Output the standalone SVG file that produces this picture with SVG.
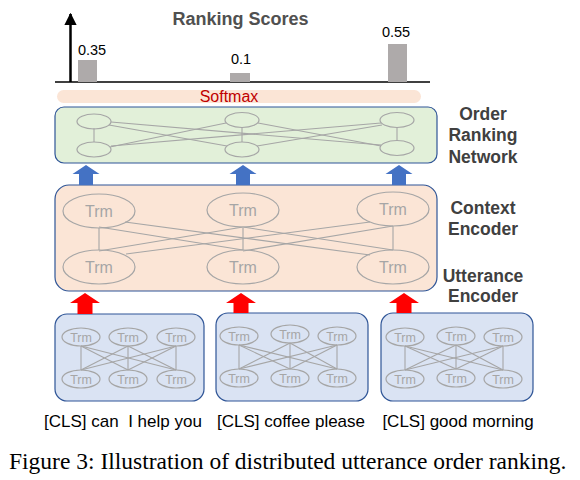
<svg xmlns="http://www.w3.org/2000/svg" width="580" height="480" viewBox="0 0 580 480">
<defs>
<style>
.lbl{font-family:"Liberation Sans",Arial,sans-serif;font-weight:bold;font-size:17.5px;fill:#404040;text-anchor:middle}
.trm{font-family:"Liberation Sans",Arial,sans-serif;fill:#a6a6a6;text-anchor:middle}
.big{font-size:16px}
.sm{font-size:12.5px}
.node{fill:none;stroke:#a6a6a6;stroke-width:1.2}
.edge{stroke:#a6a6a6;stroke-width:1.1;fill:none}
.box{stroke:#2f5597;stroke-width:1.2}
.blue{fill:#4472c4}
.red{fill:#ff0000}
.bar{fill:#aeaaaa}
.score{font-family:"Liberation Sans",Arial,sans-serif;font-size:14.5px;fill:#000;text-anchor:middle}
.utt{font-family:"Liberation Sans",Arial,sans-serif;font-size:17px;fill:#000;text-anchor:middle}
</style>
<marker id="ah" viewBox="0 0 10 10" refX="9" refY="5" markerWidth="5" markerHeight="5" orient="auto">
<path d="M0,0 L10,5 L0,10 Z" fill="#000"/>
</marker>
</defs>
<rect width="580" height="480" fill="#fff"/>

<!-- Ranking scores chart -->
<g id="scores">
<text x="240.5" y="25" class="lbl" style="font-size:18px;fill:#505050">Ranking Scores</text>
<line x1="55" y1="82" x2="430" y2="82" stroke="#000" stroke-width="1.5"/>
<line x1="70.5" y1="82" x2="70.5" y2="14" stroke="#000" stroke-width="2.5" marker-end="url(#ah)"/>
<rect x="78" y="60" width="19" height="22" class="bar"/>
<rect x="230" y="73" width="20" height="9" class="bar"/>
<rect x="388" y="44" width="19" height="38" class="bar"/>
<text x="92" y="55" class="score">0.35</text>
<text x="241" y="64" class="score">0.1</text>
<text x="396" y="37" class="score">0.55</text>
</g>

<g id="softmax">
<rect x="57" y="90" width="364" height="13" rx="6.5" fill="#fbe5d6"/>
<text x="229" y="101.5" font-family="Liberation Sans, Arial, sans-serif" font-size="16" fill="#c00000" text-anchor="middle">Softmax</text>
</g>

<!-- Order Ranking Network -->
<g id="order-ranking-network">
<rect x="55" y="107" width="382" height="56" rx="9" fill="#e2f0d9" class="box"/>
<g class="edge">
<line x1="94" y1="128" x2="94" y2="142"/>
<line x1="242" y1="127" x2="242" y2="142"/>
<line x1="397" y1="127" x2="397" y2="141"/>
<line x1="109" y1="125" x2="227" y2="146"/>
<line x1="111" y1="122" x2="381" y2="145"/>
<line x1="226" y1="123" x2="110" y2="147"/>
<line x1="258" y1="123" x2="381" y2="146"/>
<line x1="381" y1="123" x2="111" y2="146"/>
<line x1="382" y1="125" x2="257" y2="146"/>
</g>
<ellipse cx="94" cy="121.5" rx="17" ry="7.5" class="node"/>
<ellipse cx="242" cy="120" rx="17" ry="7.5" class="node"/>
<ellipse cx="397" cy="120" rx="17" ry="7.5" class="node"/>
<ellipse cx="94" cy="149.5" rx="17" ry="7.5" class="node"/>
<ellipse cx="242" cy="149.5" rx="17" ry="7.5" class="node"/>
<ellipse cx="397" cy="148" rx="17" ry="7.5" class="node"/>
<text class="lbl" x="483" y="120">Order</text>
<text class="lbl" x="483" y="141">Ranking</text>
<text class="lbl" x="483" y="163">Network</text>
</g>

<!-- Context Encoder -->
<g id="context-encoder">
<rect x="55" y="185" width="382" height="106" rx="14" fill="#fbe5d6" class="box"/>
<g class="edge">
<line x1="99" y1="228" x2="99" y2="250"/>
<line x1="243" y1="228" x2="243" y2="250"/>
<line x1="393" y1="226" x2="393" y2="250"/>
<line x1="99" y1="227" x2="243" y2="250"/>
<line x1="125" y1="222" x2="370" y2="255"/>
<line x1="243" y1="227" x2="99" y2="251"/>
<line x1="243" y1="227" x2="393" y2="250"/>
<line x1="370" y1="222" x2="126" y2="254"/>
<line x1="393" y1="226" x2="243" y2="251"/>
</g>
<ellipse cx="99" cy="211" rx="36" ry="17" class="node"/>
<ellipse cx="243" cy="210" rx="36" ry="17" class="node"/>
<ellipse cx="393" cy="209" rx="36" ry="17" class="node"/>
<ellipse cx="99" cy="267" rx="36" ry="17" class="node"/>
<ellipse cx="243" cy="267" rx="36" ry="17" class="node"/>
<ellipse cx="393" cy="267" rx="36" ry="17" class="node"/>
<text class="trm big" x="99" y="216.5">Trm</text>
<text class="trm big" x="243" y="215.5">Trm</text>
<text class="trm big" x="393" y="214.5">Trm</text>
<text class="trm big" x="99" y="272.5">Trm</text>
<text class="trm big" x="243" y="272.5">Trm</text>
<text class="trm big" x="393" y="272.5">Trm</text>
<text class="lbl" x="483" y="214">Context</text>
<text class="lbl" x="483" y="235">Encoder</text>
<text class="lbl" x="483" y="282">Utterance</text>
<text class="lbl" x="483" y="302">Encoder</text>
</g>

<!-- Utterance encoder 1 -->
<g id="utterance-1">
<rect x="55" y="314" width="149" height="87" rx="12" fill="#dae3f3" class="box"/>
<g class="edge">
<line x1="81" y1="346" x2="81" y2="370"/>
<line x1="128" y1="346" x2="128" y2="370"/>
<line x1="176" y1="346" x2="176" y2="370"/>
<line x1="81" y1="346" x2="128" y2="370"/>
<line x1="81" y1="346" x2="176" y2="370"/>
<line x1="128" y1="346" x2="81" y2="370"/>
<line x1="128" y1="346" x2="176" y2="370"/>
<line x1="176" y1="346" x2="81" y2="370"/>
<line x1="176" y1="346" x2="128" y2="370"/>
</g>
<ellipse cx="81" cy="337" rx="19" ry="9" class="node"/>
<ellipse cx="128" cy="337" rx="19" ry="9" class="node"/>
<ellipse cx="176" cy="337" rx="19" ry="9" class="node"/>
<ellipse cx="81" cy="379" rx="19" ry="9" class="node"/>
<ellipse cx="128" cy="379" rx="19" ry="9" class="node"/>
<ellipse cx="176" cy="379" rx="19" ry="9" class="node"/>
<text class="trm sm" x="81" y="341.5">Trm</text>
<text class="trm sm" x="128" y="341.5">Trm</text>
<text class="trm sm" x="176" y="341.5">Trm</text>
<text class="trm sm" x="81" y="383.5">Trm</text>
<text class="trm sm" x="128" y="383.5">Trm</text>
<text class="trm sm" x="176" y="383.5">Trm</text>
<text class="utt" x="123" y="427">[CLS] can&#160; I help you</text>
</g>

<!-- Utterance encoder 2 -->
<g id="utterance-2">
<rect x="216" y="313" width="152" height="88" rx="12" fill="#dae3f3" class="box"/>
<g class="edge">
<line x1="239" y1="345" x2="239" y2="369"/>
<line x1="290" y1="343" x2="290" y2="369"/>
<line x1="337" y1="345" x2="337" y2="369"/>
<line x1="239" y1="345" x2="290" y2="369"/>
<line x1="239" y1="345" x2="337" y2="369"/>
<line x1="290" y1="343" x2="239" y2="369"/>
<line x1="290" y1="343" x2="337" y2="369"/>
<line x1="337" y1="345" x2="239" y2="369"/>
<line x1="337" y1="345" x2="290" y2="369"/>
</g>
<ellipse cx="239" cy="336" rx="19" ry="9" class="node"/>
<ellipse cx="290" cy="334" rx="19" ry="9" class="node"/>
<ellipse cx="337" cy="336" rx="19" ry="9" class="node"/>
<ellipse cx="239" cy="378" rx="19" ry="9" class="node"/>
<ellipse cx="290" cy="378" rx="19" ry="9" class="node"/>
<ellipse cx="337" cy="378" rx="19" ry="9" class="node"/>
<text class="trm sm" x="239" y="340.5">Trm</text>
<text class="trm sm" x="290" y="338.5">Trm</text>
<text class="trm sm" x="337" y="340.5">Trm</text>
<text class="trm sm" x="239" y="382.5">Trm</text>
<text class="trm sm" x="290" y="382.5">Trm</text>
<text class="trm sm" x="337" y="382.5">Trm</text>
<text class="utt" x="291" y="427">[CLS] coffee please</text>
</g>

<!-- Utterance encoder 3 -->
<g id="utterance-3">
<rect x="381" y="313" width="152" height="88" rx="12" fill="#dae3f3" class="box"/>
<g class="edge">
<line x1="405" y1="346" x2="405" y2="370"/>
<line x1="456" y1="345" x2="456" y2="369"/>
<line x1="503" y1="346" x2="503" y2="370"/>
<line x1="405" y1="346" x2="456" y2="369"/>
<line x1="405" y1="346" x2="503" y2="370"/>
<line x1="456" y1="345" x2="405" y2="370"/>
<line x1="456" y1="345" x2="503" y2="370"/>
<line x1="503" y1="346" x2="405" y2="370"/>
<line x1="503" y1="346" x2="456" y2="369"/>
</g>
<ellipse cx="405" cy="337" rx="19" ry="9" class="node"/>
<ellipse cx="456" cy="336" rx="19" ry="9" class="node"/>
<ellipse cx="503" cy="337" rx="19" ry="9" class="node"/>
<ellipse cx="405" cy="379" rx="19" ry="9" class="node"/>
<ellipse cx="456" cy="378" rx="19" ry="9" class="node"/>
<ellipse cx="503" cy="379" rx="19" ry="9" class="node"/>
<text class="trm sm" x="405" y="341.5">Trm</text>
<text class="trm sm" x="456" y="340.5">Trm</text>
<text class="trm sm" x="503" y="341.5">Trm</text>
<text class="trm sm" x="405" y="383.5">Trm</text>
<text class="trm sm" x="456" y="382.5">Trm</text>
<text class="trm sm" x="503" y="383.5">Trm</text>
<text class="utt" x="458" y="427">[CLS] good morning</text>
</g>

<!-- Connectors (block arrows) -->
<g id="connectors">
<path class="blue" d="M86,165 L99.5,174 L93,174 L93,185 L79,185 L79,174 L72.5,174 Z"/>
<path class="blue" d="M243,165 L256.5,174 L250,174 L250,185 L236,185 L236,174 L229.5,174 Z"/>
<path class="blue" d="M399,165 L412.5,174 L406,174 L406,185 L392,185 L392,174 L385.5,174 Z"/>
<path class="red" d="M85,293 L100,303 L92.5,303 L92.5,314 L77.5,314 L77.5,303 L70,303 Z"/>
<path class="red" d="M241,293 L256,303 L248.5,303 L248.5,313 L233.5,313 L233.5,303 L226,303 Z"/>
<path class="red" d="M404,293 L419,303 L411.5,303 L411.5,313 L396.5,313 L396.5,303 L389,303 Z"/>
</g>

<text x="9" y="469" font-family="Liberation Serif, 'Times New Roman', serif" font-size="23.5" fill="#000">Figure 3: Illustration of distributed utterance order ranking.</text>
</svg>
